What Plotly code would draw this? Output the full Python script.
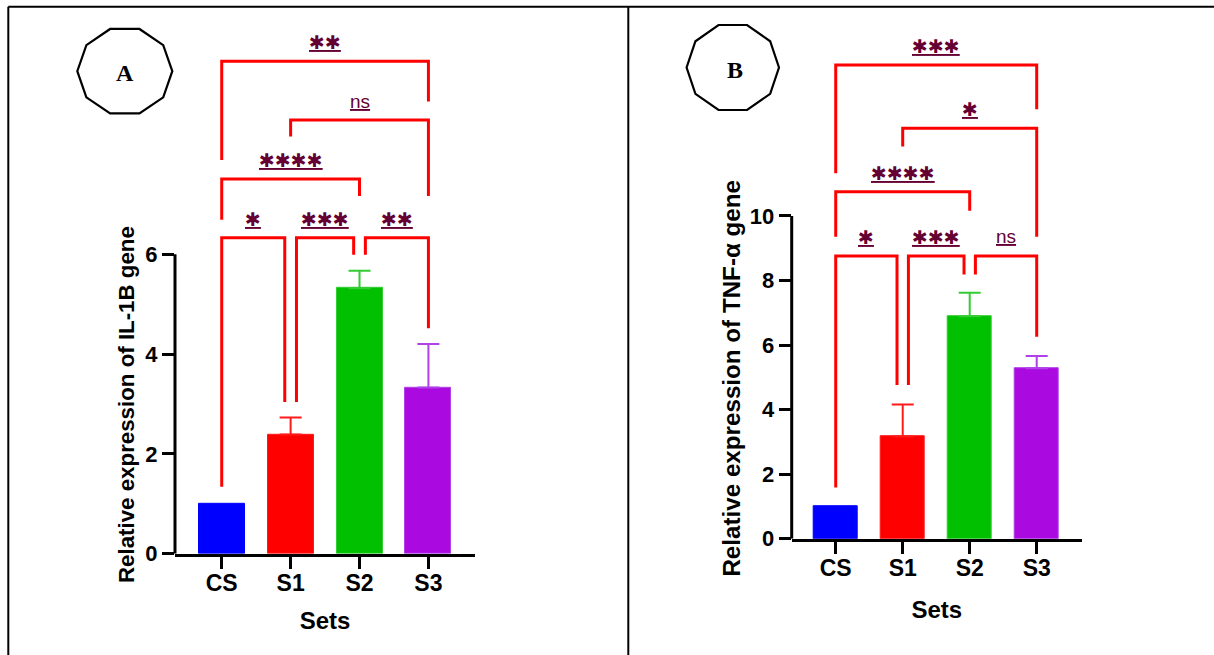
import numpy as np
import plotly.graph_objects as go

# ---------------- data ----------------
categories = ["CS", "S1", "S2", "S3"]
bar_colors = ["#0000ff", "#ff0000", "#00c000", "#aa0ae0"]
err_colors = ["#0000ff", "#ff1a1a", "#33cc33", "#b040e8"]

il1b_mean = [1.0, 2.39, 5.32, 3.33]
il1b_sd = [0.0, 0.34, 0.35, 0.87]

tnfa_mean = [1.0, 3.17, 6.89, 5.28]
tnfa_sd = [0.0, 0.99, 0.73, 0.38]

# comparison brackets: (left x, right x, bracket height, left leg end, right leg end, label)
il1b_brackets_x0 = [0.0, 1.085, 2.085, 0.0, 1.0, 0.0]
il1b_brackets_x1 = [0.915, 1.915, 3.0, 2.0, 3.0, 3.0]
il1b_brackets_y = [6.33, 6.33, 6.33, 7.51, 8.69, 9.87]
il1b_brackets_yl = [1.34, 3.04, 5.99, 6.69, 8.36, 7.89]
il1b_brackets_yr = [3.04, 5.99, 4.52, 7.17, 7.17, 9.06]
il1b_labels = ["*", "***", "**", "****", "ns", "**"]

tnfa_brackets_x0 = [0.0, 1.085, 2.085, 0.0, 1.0, 0.0]
tnfa_brackets_x1 = [0.915, 1.915, 3.0, 2.0, 3.0, 3.0]
tnfa_brackets_y = [8.76, 8.76, 8.76, 10.75, 12.72, 14.68]
tnfa_brackets_yl = [1.59, 4.76, 8.19, 9.36, 12.15, 11.32]
tnfa_brackets_yr = [4.76, 8.19, 6.26, 10.16, 9.36, 13.31]
tnfa_labels = ["*", "***", "ns", "****", "*", "***"]

il1b_ticks = [0, 2, 4, 6]
tnfa_ticks = [0, 2, 4, 6, 8, 10]

W, H = 1214, 655
FONT = "Liberation Sans"
LABEL_COLOR = "#650033"

fig = go.Figure()


def px(x):
    return x / W


def py(y):
    return 1 - y / H


def add_panel(xa, ya, means, sds):
    for i, cat in enumerate(categories):
        fig.add_trace(go.Bar(
            x=[i], y=[means[i]], width=0.667,
            marker=dict(color=bar_colors[i], line=dict(color=err_colors[i], width=1)),
            error_y=dict(type="data", symmetric=False, array=[sds[i]], arrayminus=[0],
                         color=err_colors[i], thickness=2, width=11,
                         visible=sds[i] > 0),
            xaxis=xa, yaxis=ya, showlegend=False, name=cat,
        ))


add_panel("x", "y", il1b_mean, il1b_sd)
add_panel("x2", "y2", tnfa_mean, tnfa_sd)

shapes = []
annotations = []


def add_brackets(xr, yr, x0s, x1s, ys, yls, yrs, labels):
    for x0, x1, y, yl, yrr, lab in zip(x0s, x1s, ys, yls, yrs, labels):
        shapes.append(dict(type="path", xref=xr, yref=yr,
                           path=f"M {x0},{yl} V {y} H {x1} V {yrr}",
                           line=dict(color="#ff0000", width=3)))
        if lab == "ns":
            txt = "<u>ns</u>"
            fnt = dict(family=FONT, size=19, color=LABEL_COLOR)
        else:
            txt = "<u>" + "\u2731" * len(lab) + "</u>"
            fnt = dict(family="DejaVu Sans", size=19, color=LABEL_COLOR)
        annotations.append(dict(x=(x0 + x1) / 2, y=y, xref=xr, yref=yr, text=txt,
                                showarrow=False, font=fnt, yanchor="middle",
                                xanchor="center", yshift=19))


add_brackets("x", "y", il1b_brackets_x0, il1b_brackets_x1, il1b_brackets_y,
             il1b_brackets_yl, il1b_brackets_yr, il1b_labels)
add_brackets("x2", "y2", tnfa_brackets_x0, tnfa_brackets_x1, tnfa_brackets_y,
             tnfa_brackets_yl, tnfa_brackets_yr, tnfa_labels)

# y-axis lines only up to the last tick
for xr, yr, ticks in [("x domain", "y", il1b_ticks), ("x2 domain", "y2", tnfa_ticks)]:
    shapes.append(dict(type="line", xref=xr, yref=yr, x0=0, x1=0, y0=0, y1=ticks[-1],
                       line=dict(color="black", width=3)))

# frame lines
for s in [
    dict(x0=px(8.3), x1=1, y0=py(6.7), y1=py(6.7)),
    dict(x0=px(8.3), x1=px(8.3), y0=py(6.7), y1=0),
    dict(x0=px(628.3), x1=px(628.3), y0=py(6.7), y1=0),
]:
    shapes.append(dict(type="line", xref="paper", yref="paper", line=dict(color="black", width=2), **s))


def decagon(cx, cy, rx, ry):
    ang = np.deg2rad(np.arange(10) * 36)
    xs = cx + rx * np.cos(ang)
    ys = cy - ry * np.sin(ang)
    pts = [f"{px(x):.5f},{py(y):.5f}" for x, y in zip(xs, ys)]
    return "M " + " L ".join(pts) + " Z"


shapes.append(dict(type="path", xref="paper", yref="paper", path=decagon(124.8, 71.2, 47.5, 44.4),
                   line=dict(color="black", width=2.2)))
shapes.append(dict(type="path", xref="paper", yref="paper", path=decagon(732.8, 67.5, 46.2, 44.7),
                   line=dict(color="black", width=2.2)))

center = dict(xref="paper", yref="paper", xanchor="center", yanchor="middle", showarrow=False)
annotations.append(dict(x=px(124.5), y=py(73), text="<b>A</b>",
                        font=dict(family="Liberation Serif", size=24, color="black"), **center))
annotations.append(dict(x=px(735), y=py(70), text="<b>B</b>",
                        font=dict(family="Liberation Serif", size=24, color="black"), **center))

# y-axis titles
annotations.append(dict(x=px(126), y=py(405), textangle=-90,
                        text="<b>Relative expression of IL-1B gene</b>",
                        font=dict(family=FONT, size=22.3, color="black"), **center))
annotations.append(dict(x=px(730.6), y=py(378), textangle=-90,
                        text="<b>Relative expression of TNF-α gene</b>",
                        font=dict(family=FONT, size=24.2, color="black"), **center))

xcommon = dict(tickvals=[0, 1, 2, 3], ticktext=categories, showline=True, linewidth=3,
               linecolor="black", ticks="outside", ticklen=12, tickwidth=3, tickcolor="black",
               tickfont=dict(family=FONT, size=23, color="black", weight="bold"),
               ticklabelstandoff=-5,
               showgrid=False, zeroline=False, fixedrange=True, automargin=False)
ycommon = dict(showline=False, ticks="outside", ticklen=12, tickwidth=3, tickcolor="black",
               tickfont=dict(family=FONT, size=22, color="black", weight="bold"),
               showgrid=False, zeroline=False, fixedrange=True, automargin=False)

sets_font = dict(family=FONT, size=24, color="black")

fig.update_layout(
    width=W, height=H,
    margin=dict(l=0, r=0, t=0, b=0, autoexpand=False),
    paper_bgcolor="white", plot_bgcolor="white",
    bargap=0,
    xaxis=dict(domain=[px(175), px(475)], range=[-0.678, 3.676], anchor="y",
               title=dict(text="<b>Sets</b>", font=sets_font, standoff=17), **xcommon),
    yaxis=dict(domain=[py(553.7), py(4.8)], range=[0, 11], tickvals=il1b_ticks, anchor="x", **ycommon),
    xaxis2=dict(domain=[px(791.7), px(1082)], range=[-0.657, 3.676], anchor="y2",
                title=dict(text="<b>Sets</b>", font=sets_font, standoff=21), **xcommon),
    yaxis2=dict(domain=[py(538.7), py(6.2)], range=[0, 16.5], tickvals=tnfa_ticks, anchor="x2", **ycommon),
    shapes=shapes,
    annotations=annotations,
    showlegend=False,
)

fig.write_html(
    "out.html",
    config={"displayModeBar": False},
    post_script="document.body.style.margin='0';document.body.style.padding='0';"
                "document.body.style.overflow='hidden';",
)
